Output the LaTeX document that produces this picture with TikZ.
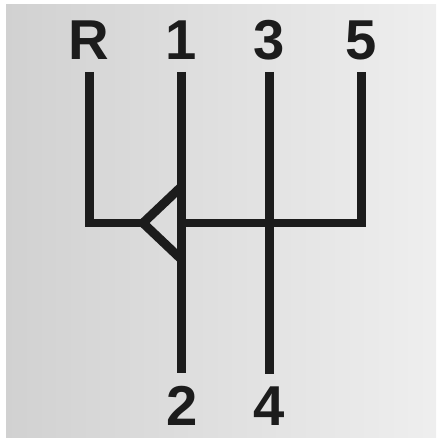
\documentclass[tikz,border=0pt]{standalone}
\usepackage{fontspec}
\setmainfont{Liberation Sans}
\usepackage{tikz}
\usetikzlibrary{positioning, calc}

\definecolor{ink}{HTML}{1C1C1C}

\begin{document}
\begin{tikzpicture}[
  x=0.02cm, y=-0.02cm,
  gear/.style={font=\fontsize{32}{32}\selectfont\bfseries, text=ink, inner sep=0pt, anchor=base},
  gate/.style={draw=ink, line width=0.18cm, line cap=butt, line join=miter}
]
  \useasboundingbox (0,0) rectangle (436,438);
  \fill[left color=gray!36, right color=gray!13] (6,5) rectangle (436,438);

  % gear labels
  \node[gear] (R)  at (89,60)   {R};
  \node[gear] (g1) at (181,60)  {1};
  \node[gear] (g3) at (269,60)  {3};
  \node[gear] (g5) at (361,60)  {5};
  \node[gear] (g2) at (182,425) {2};
  \node[gear] (g4) at (269,425) {4};

  % gate points
  \coordinate (rtop) at (89,72);
  \coordinate (rcorner) at (89,223);
  \coordinate (apex) at (143,223);
  \coordinate (legup) at (181,187);
  \coordinate (leglow) at (181,259);
  \coordinate (onetop) at (181,72);
  \coordinate (onebot) at (181,373);
  \coordinate (onemid) at (181,223);
  \coordinate (threetop) at (269,72);
  \coordinate (threebot) at (269,374);
  \coordinate (fivecorner) at (361,223);
  \coordinate (fivetop) at (361,72);

  \draw[gate] (rtop) -- (rcorner) -- (apex);
  \draw[gate] (legup) -- (apex) -- (leglow);
  \draw[gate] (onetop) -- (onebot);
  \draw[gate] (threetop) -- (threebot);
  \draw[gate] (onemid) -- (fivecorner) -- (fivetop);
\end{tikzpicture}
\end{document}
